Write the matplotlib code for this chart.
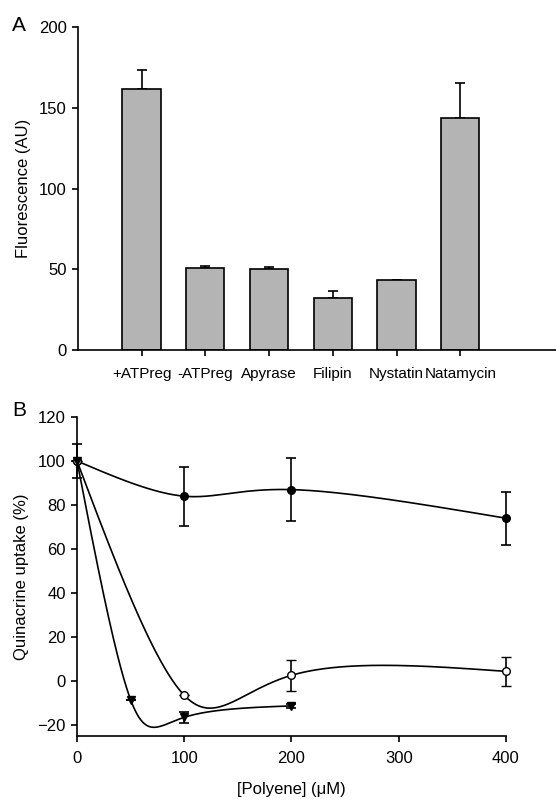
import numpy as np
import matplotlib
matplotlib.use('Agg')
import matplotlib.pyplot as plt

plt.rcParams['font.family'] = ['Liberation Sans', 'DejaVu Sans']

# Panel A data
treatments = ['+ATPreg', '-ATPreg', 'Apyrase', 'Filipin', 'Nystatin', 'Natamycin']
fluorescence = [162, 51, 50.5, 32.5, 43.5, 144]
fluorescence_err = [11.5, 1, 0.7, 4, 0, 21.5]

# Panel B data
conc_filled = [0, 100, 200, 400]
uptake_filled = [100, 84, 87, 74]
err_filled = [7.6, 13.5, 14.4, 12]

conc_open = [0, 100, 200, 400]
uptake_open = [100, -6.5, 2.6, 4.4]
err_open = [0, 0, 7, 6.7]

conc_tri = [0, 50, 100, 200]
uptake_tri = [100, -8.5, -16.5, -11.3]
err_tri = [0, 0, 2.5, 0.8]


def natural_spline_1d(y, t):
    # natural cubic spline on uniform knots 0..k-1, evaluated at t
    y = np.asarray(y, float)
    k = len(y)
    A = np.zeros((k, k))
    b = np.zeros(k)
    A[0, 0] = 1
    A[-1, -1] = 1
    for i in range(1, k - 1):
        A[i, i - 1] = 1
        A[i, i] = 4
        A[i, i + 1] = 1
        b[i] = 6 * (y[i + 1] - 2 * y[i] + y[i - 1])
    M = np.linalg.solve(A, b)
    idx = np.clip(np.floor(t).astype(int), 0, k - 2)
    s = t - idx
    return (M[idx] * (1 - s)**3 / 6 + M[idx + 1] * s**3 / 6
            + (y[idx] - M[idx] / 6) * (1 - s) + (y[idx + 1] - M[idx + 1] / 6) * s)


def spline_curve(x, y, n=400):
    # parametric spline (point index as parameter), SigmaPlot style
    t = np.linspace(0, len(x) - 1, n)
    return natural_spline_1d(x, t), natural_spline_1d(y, t)


fig = plt.figure(figsize=(5.56, 8.01), dpi=100)
lw = 1.2

# ---- Panel A ----
axA = fig.add_axes([0.140, 0.563, 0.860, 0.403])
pos = np.arange(len(treatments))
axA.bar(pos, fluorescence, width=0.6, color='#b4b4b4', edgecolor='black',
        linewidth=lw, zorder=2)
axA.errorbar(pos, fluorescence, yerr=[np.zeros(len(pos)), fluorescence_err],
             fmt='none', ecolor='black', elinewidth=lw, capsize=3.6,
             capthick=lw, zorder=1)
axA.set_xlim(-1, 6.5)
axA.set_ylim(0, 200)
axA.set_yticks([0, 50, 100, 150, 200])
axA.set_xticks(pos)
axA.set_xticklabels(treatments)
axA.set_ylabel('Fluorescence (AU)', fontsize=12, labelpad=6)
for sp in ['left', 'bottom']:
    axA.spines[sp].set_linewidth(lw)
axA.spines['top'].set_visible(False)
axA.spines['right'].set_visible(False)
axA.tick_params(direction='out', length=4, width=lw, labelsize=12, pad=4)
axA.tick_params(axis='x', pad=8, labelsize=11)
fig.text(0.022, 0.968, 'A', fontsize=15, ha='left', va='center')

# ---- Panel B ----
axB = fig.add_axes([0.1385, 0.0811, 0.7715, 0.3983])

for xs_, ys_ in [(conc_filled, uptake_filled), (conc_open, uptake_open),
                 (conc_tri, uptake_tri)]:
    sx, sy = spline_curve(xs_, ys_)
    axB.plot(sx, sy, color='black', linewidth=lw, zorder=2)

axB.errorbar(conc_filled, uptake_filled, yerr=err_filled, fmt='o', ms=5.5,
             mfc='black', mec='black', ecolor='black', elinewidth=lw,
             capsize=3.6, capthick=lw, zorder=3, clip_on=False)
axB.errorbar(conc_open, uptake_open, yerr=err_open, fmt='o', ms=5.5,
             mfc='white', mec='black', mew=1.0, ecolor='black', elinewidth=lw,
             capsize=3.6, capthick=lw, zorder=3, clip_on=False)
axB.errorbar(conc_tri, uptake_tri, yerr=err_tri, fmt='v', ms=6,
             mfc='black', mec='black', ecolor='black', elinewidth=lw,
             capsize=3.6, capthick=lw, zorder=3, clip_on=False)

axB.set_xlim(0, 400)
axB.set_ylim(-25, 120)
axB.set_xticks([0, 100, 200, 300, 400])
axB.set_yticks([-20, 0, 20, 40, 60, 80, 100, 120])
axB.set_xlabel('[Polyene] (\u03bcM)', fontsize=12, labelpad=11)
axB.set_ylabel('Quinacrine uptake (%)', fontsize=12, labelpad=6)
for sp in ['left', 'bottom']:
    axB.spines[sp].set_linewidth(lw)
axB.spines['top'].set_visible(False)
axB.spines['right'].set_visible(False)
axB.tick_params(direction='out', length=4, width=lw, labelsize=12, pad=4)
axB.tick_params(axis='x', pad=7)
fig.text(0.022, 0.487, 'B', fontsize=15, ha='left', va='center')

fig.savefig('out.png', dpi=100)
